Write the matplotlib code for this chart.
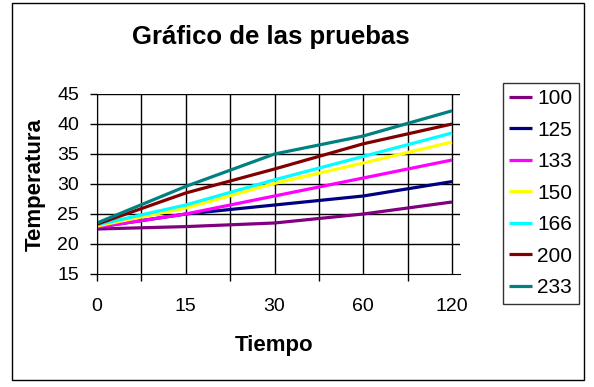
import numpy as np
import matplotlib
matplotlib.use("Agg")
import matplotlib.pyplot as plt
from matplotlib.patches import Rectangle

plt.rcParams['font.family'] = ['Liberation Sans', 'DejaVu Sans']

# datos
tiempos = ["0", "15", "30", "60", "120"]
series = ["100", "125", "133", "150", "166", "200", "233"]
t100 = [22.5, 22.9, 23.5, 25.0, 27.0]
t125 = [22.8, 25.0, 26.5, 28.0, 30.4]
t133 = [22.8, 25.0, 28.0, 31.0, 34.0]
t150 = [23.0, 26.0, 30.1, 33.5, 37.0]
t166 = [23.2, 26.5, 30.7, 34.6, 38.5]
t200 = [23.3, 28.5, 32.5, 36.7, 40.0]
t233 = [23.5, 29.6, 35.0, 38.0, 42.2]
valores = [t100, t125, t133, t150, t166, t200, t233]
colores = ["#800080", "#000080", "#FF00FF", "#FFFF00", "#00FFFF", "#800000", "#008080"]

fig = plt.figure(figsize=(5.94, 3.87), dpi=100)
ax = fig.add_axes([97/594, 1-274/387, (460-97)/594, (274-94)/387])

x = np.arange(len(tiempos))
for nombre, y, c in zip(series, valores, colores):
    ax.plot(x, y, color=c, lw=2.3, label=nombre, solid_capstyle='butt')

ax.set_xlim(0, 4.09)
ax.set_ylim(15, 45)
ax.set_yticks(np.arange(15, 46, 5))
ax.set_xticks(x)
ax.set_xticklabels(tiempos)
ax.xaxis.remove_overlapping_locs = False
ax.set_xticks([0, 0.5, 1.5, 2.5, 3.5], minor=True)
ax.tick_params(axis='x', which='major', length=0, pad=17, labelsize=14)
ax.tick_params(axis='x', which='minor', length=5, width=1, direction='out')
ax.tick_params(axis='y', length=5, width=1, pad=8, labelsize=14)

for gx in np.arange(0, 4.01, 0.5):
    ax.axvline(gx, color='black', lw=1, zorder=0.5)
for gy in np.arange(20, 46, 5):
    ax.axhline(gy, color='black', lw=1, zorder=0.5)
ax.spines['top'].set_visible(False)
ax.spines['right'].set_visible(False)

fig.text(271/594, 1-37/387, "Gráfico de las pruebas", fontsize=18.5, fontweight='bold',
         ha='center', va='center')
fig.text(274/594, 1-345/387, "Tiempo", fontsize=16, fontweight='bold', ha='center', va='center')
fig.text(35/594, 1-185/387, "Temperatura", fontsize=16, fontweight='bold', ha='center',
         va='center', rotation=90)

leg = fig.legend(loc='upper left', bbox_to_anchor=(503/594, 1-83/387), fontsize=15,
                 frameon=True, fancybox=False, edgecolor='black', handlelength=1.1,
                 handletextpad=0.25, labelspacing=0.6, borderpad=0.3, borderaxespad=0)
leg.get_frame().set_linewidth(1)

fig.patches.append(Rectangle((12/594, 1-380/387), (584-12)/594, (380-3)/387,
                             transform=fig.transFigure, fill=False, edgecolor='black', lw=1))

fig.savefig("out.png", dpi=100)
